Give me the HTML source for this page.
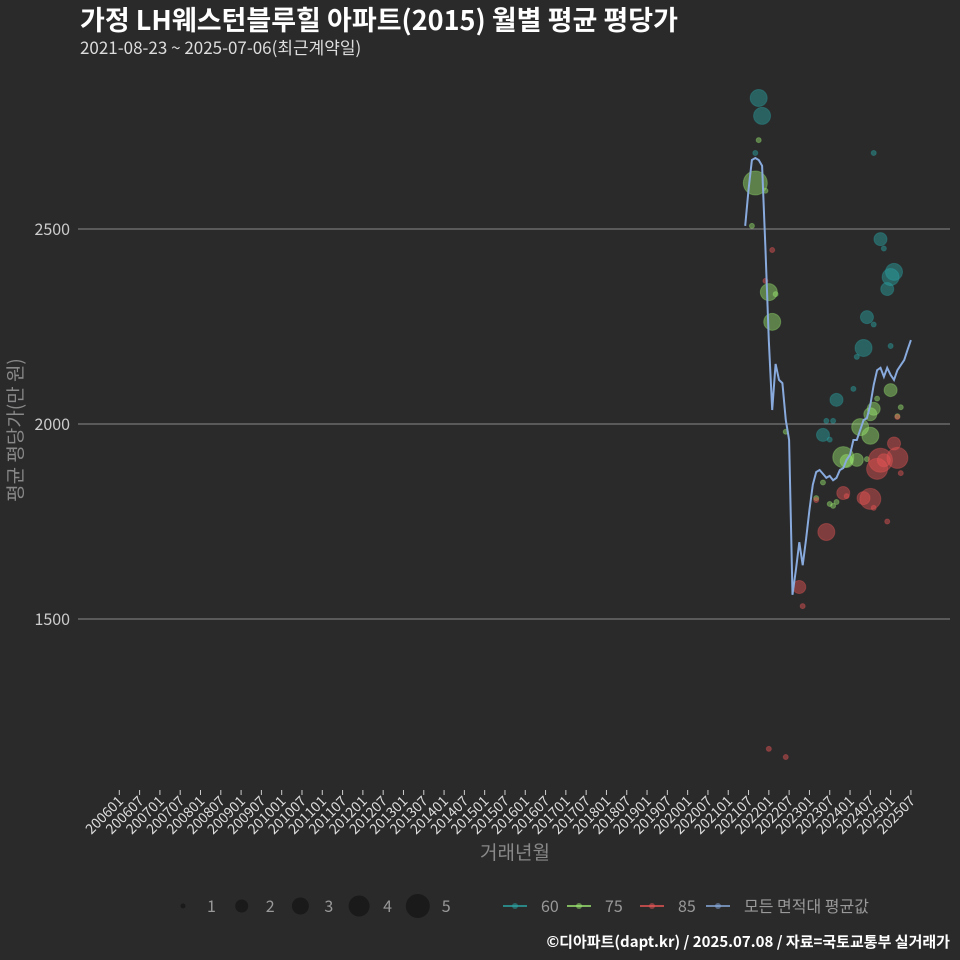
<!DOCTYPE html>
<html><head><meta charset="utf-8"><style>
body{margin:0;background:#2a2a2b;}
svg{display:block;font-family:"Noto Sans CJK KR","Liberation Sans",sans-serif;}
</style></head><body>
<svg width="960" height="960" viewBox="0 0 960 960" xmlns="http://www.w3.org/2000/svg">
<rect width="960" height="960" fill="#2a2a2b"/>
<text x="80" y="30" fill="#ffffff" font-size="27" font-weight="bold">가정 LH웨스턴블루힐 아파트(2015) 월별 평균 평당가</text>
<text x="80" y="54" fill="#dddddd" font-size="17">2021-08-23 ~ 2025-07-06(최근계약일)</text>
<g id="grid"></g>
<g id="yticks"></g>
<g id="xticks"></g>
<g id="bubbles"></g>
<path id="avgline" fill="none" stroke="#88aadd" stroke-width="2"/>
<text transform="translate(22,430) rotate(-90)" text-anchor="middle" fill="#888" font-size="19">평균 평당가(만 원)</text>
<text x="515" y="859" text-anchor="middle" fill="#888" font-size="19">거래년월</text>
<g id="legend"></g>
<text x="950" y="947" text-anchor="end" fill="#fff" font-size="15" font-weight="bold">©디아파트(dapt.kr) / 2025.07.08 / 자료=국토교통부 실거래가</text>
</svg>
<script>
const yTicks=[1500,2000,2500];
const lineStart="2021-06";
const lineValues=[2508,2600,2677,2682,2677,2662,2446,2215,2036,2154,2113,2105,2010,1959,1562,1626,1697,1638,1703,1779,1844,1877,1882,1872,1862,1867,1856,1862,1882,1887,1908,1921,1959,1959,1985,2010,2015,2049,2100,2138,2144,2121,2144,2126,2113,2138,2151,2164,2190,2215];
const bMonths=["2021-10","2021-11","2021-09","2024-08","2024-10","2024-11","2025-02","2025-01","2024-12","2024-06","2024-08","2024-05","2024-03","2025-01","2024-02","2023-09","2023-06","2023-08","2023-05","2023-07",
"2021-10","2021-09","2021-12","2021-08","2022-01","2022-03","2022-02","2022-06","2025-01","2024-09","2025-04","2024-08","2024-07","2024-04","2024-07","2025-03","2023-11","2023-12","2024-03","2024-06","2023-05","2023-03","2023-07","2023-08","2023-09",
"2022-02","2021-12","2022-10","2022-11","2022-01","2022-06","2023-06","2023-11","2024-07","2024-05","2024-08","2024-10","2024-09","2024-11","2025-02","2025-03","2025-04","2025-03","2024-12","2023-03","2023-12"];
const bValues=[2836,2790,2695,2695,2474,2450,2390,2377,2346,2274,2255,2195,2172,2200,2090,2062,2008,2008,1972,1960,
2728,2618,2598,2508,2338,2333,2262,1980,2087,2065,2043,2039,2025,1992,1970,2020,1915,1905,1908,1910,1850,1810,1795,1790,1800,
2446,2367,1582,1533,1167,1146,1723,1823,1808,1810,1785,1907,1885,1907,1950,1913,1874,2018,1750,1805,1815];
const bAreas=["60","60","60","60","60","60","60","60","60","60","60","60","60","60","60","60","60","60","60","60",
"75","75","75","75","75","75","75","75","75","75","75","75","75","75","75","75","75","75","75","75","75","75","75","75","75",
"85","85","85","85","85","85","85","85","85","85","85","85","85","85","85","85","85","85","85","85","85"];
const bCounts=[3,3,1,1,2,1,3,3,2,2,1,3,1,1,1,2,1,1,2,1,
1,5,1,1,3,1,3,1,2,1,1,2,2,3,3,1,4,2,2,1,1,1,1,1,1,
1,1,2,1,1,1,3,2,4,2,1,5,4,2,2,4,1,1,1,1,1];
const xLabelsStart=2006, xLabelsEnd=2025;

const NS="http://www.w3.org/2000/svg";
function mk(t,a,p){const e=document.createElementNS(NS,t);for(const k in a)e.setAttribute(k,a[k]);p.appendChild(e);return e;}
function mi(s){const[y,m]=s.split("-").map(Number);return (y-2006)*12+(m-1);}
const xS=i=>119.3+i*3.383;
const yS=v=>229+(2500-v)*0.39;
const colors={"60":"#2aa3a3","75":"#9be870","85":"#e85555"};
const rad=n=>[0,2.5,6.5,8.5,10.5,12][Math.min(5,Math.max(1,n))];

const grid=document.getElementById('grid'),yt=document.getElementById('yticks');
yTicks.forEach(v=>{
 const l=mk('line',{x1:78,x2:950,y1:yS(v),y2:yS(v),stroke:'#8a8a8a','stroke-width':1},grid);
 
 
 const t=mk('text',{x:70,y:yS(v)+6,'text-anchor':'end',fill:'#cccccc','font-size':16},yt);
 
 
 t.textContent=v;
});
const xt=document.getElementById('xticks');
for(let y=xLabelsStart;y<=xLabelsEnd;y++){for(const m of ["01","07"]){
 const lab=y+m,x=xS(mi(y+"-"+m));
 const tk=mk('line',{x1:x,x2:x,y1:790,y2:795,stroke:'#cccccc'},xt);
 
 
 const t=mk('text',{transform:`translate(${x+5},${802}) rotate(-45)`,'text-anchor':'end',fill:'#dddddd','font-size':14},xt);
 
 
 t.textContent=lab;
}}
const bg=document.getElementById('bubbles');
bMonths.forEach((m,i)=>{
 const c=mk('circle',{cx:xS(mi(m)),cy:yS(bValues[i]),r:rad(bCounts[i]),fill:colors[bAreas[i]],'fill-opacity':0.45,stroke:colors[bAreas[i]],'stroke-opacity':0.35},bg);
 
 
});
const s0=mi(lineStart);
document.getElementById('avgline').setAttribute('d',lineValues.map((v,i)=>(i?'L':'M')+xS(s0+i).toFixed(1)+','+yS(v).toFixed(1)).join(''));
const lg=document.getElementById('legend');
[1,2,3,4,5].forEach((n,i)=>{
 const cx=183+i*58.7;
 const c=mk('circle',{cx:cx,cy:906,r:rad(n),fill:'#1a1a1a'},lg);
 
 
 const t=mk('text',{x:cx+24,y:912,fill:'#999','font-size':16},lg);
 
 
 t.textContent=n;
});
[["60","#2aa3a3",503],["75","#9be870",567],["85","#e85555",640],["모든 면적대 평균값","#88aadd",706]].forEach(([lab,col,x])=>{
 const l=mk('line',{x1:x,x2:x+24,y1:906,y2:906,stroke:col,'stroke-width':1.5},lg);
 
 
 const c=mk('circle',{cx:x+12,cy:906,r:3,fill:col,'fill-opacity':0.5},lg);
 
 
 const t=mk('text',{x:x+38,y:912,fill:'#999','font-size':16},lg);
 
 
 t.textContent=lab;
});
</script>
</body></html>
